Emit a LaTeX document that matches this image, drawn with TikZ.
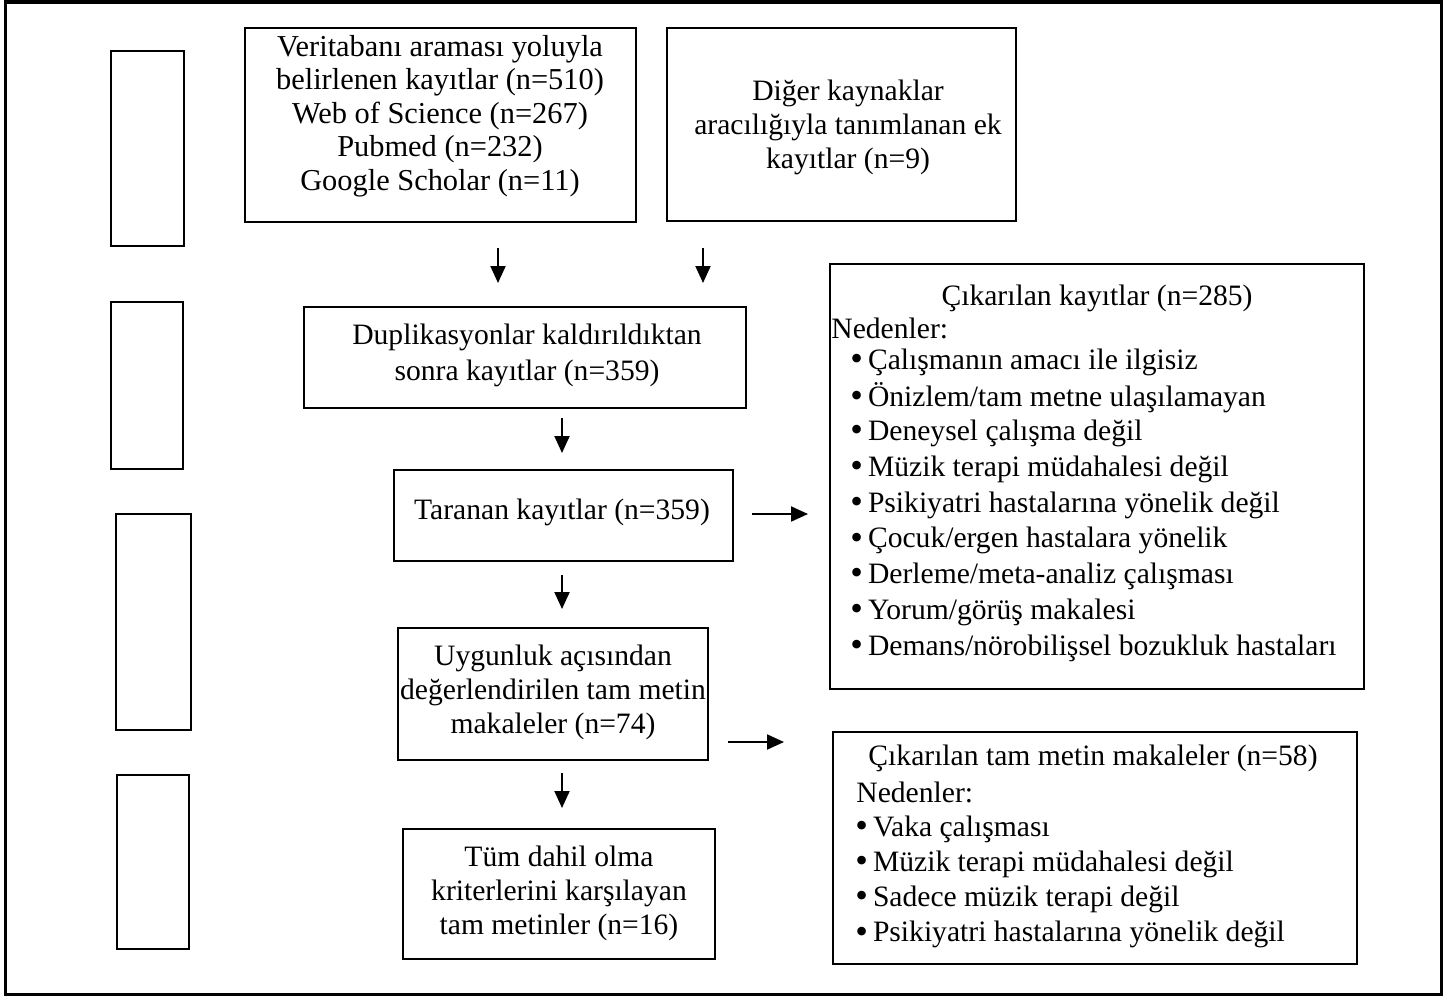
\documentclass[tikz,border=0pt]{standalone}
\usepackage{fontspec}
\setmainfont{Liberation Serif}
\usetikzlibrary{arrows.meta,fit}
\newcommand{\bul}{\smash{\raisebox{-0.6pt}{\fontsize{18}{17}\selectfont•}}\hspace{2.5pt}}
\begin{document}
\begin{tikzpicture}[x=0.5pt,y=-0.5pt,
  box/.style={draw, line width=0.9pt, inner sep=0pt},
  side/.style={draw, line width=0.7pt, inner sep=0pt},
  txt/.style={inner sep=0pt, align=center, font={\fontsize{14.8}{17}\selectfont}},
  item/.style={inner sep=0pt, anchor=west, font={\fontsize{14.8}{17}\selectfont}},
  arr/.style={line width=1pt, -{Triangle[width=7.5pt,length=8.5pt]}}]
\useasboundingbox (0,0) rectangle (1450,996);
\draw[line width=1.75pt] (5.5,1.75) rectangle (1441.5,994.25);
% side boxes
\node[side, fit={(111,51)(184,246)}] (L1) {};
\node[side, fit={(111,302)(183,469)}] (L2) {};
\node[side, fit={(116,514)(191,730)}] (L3) {};
\node[side, fit={(117,775)(189,949)}] (L4) {};
% main boxes
\node[box, fit={(245,28)(636,222)}] (A) {};
\node[box, fit={(667,28)(1016,221)}] (B) {};
\node[box, fit={(304,307)(746,408)}] (C) {};
\node[box, fit={(394,470)(733,561)}] (D) {};
\node[box, fit={(830,264)(1364,689)}] (E) {};
\node[box, fit={(398,628)(708,760)}] (F) {};
\node[box, fit={(833,732)(1357,964)}] (G) {};
\node[box, fit={(403,829)(715,959)}] (H) {};
% texts
\node[txt, font={\fontsize{15.2}{16.8}\selectfont}] (At) at (440,116) {Veritabanı araması yoluyla\\belirlenen kayıtlar (n=510)\\Web of Science (n=267)\\Pubmed (n=232)\\Google Scholar (n=11)};
\node[txt] (Bt) at (848,127) {Diğer kaynaklar\\aracılığıyla tanımlanan ek\\kayıtlar (n=9)};
\node[txt, font={\fontsize{14.8}{18}\selectfont}] (Ct) at (527,355) {Duplikasyonlar kaldırıldıktan\\sonra kayıtlar (n=359)};
\node[txt] (Dt) at (562,512) {Taranan kayıtlar (n=359)};
\node[txt] (Ft) at (553,692) {Uygunluk açısından\\değerlendirilen tam metin\\makaleler (n=74)};
\node[txt] (Ht) at (559,893) {Tüm dahil olma\\kriterlerini karşılayan\\tam metinler (n=16)};
% excluded records
\node[txt] (Et) at (1097,298) {Çıkarılan kayıtlar (n=285)};
\node[item] (En) at (831,328) {Nedenler:};
\foreach \t [count=\i] in {Çalışmanın amacı ile ilgisiz, Önizlem/tam metne ulaşılamayan, Deneysel çalışma değil, Müzik terapi müdahalesi değil, Psikiyatri hastalarına yönelik değil, Çocuk/ergen hastalara yönelik, Derleme/meta-analiz çalışması, Yorum/görüş makalesi, Demans/nörobilişsel bozukluk hastaları}
  \node[item] (e\i) at (850,{362+35.75*(\i-1)}) {\bul\t};
% excluded full texts
\node[txt] (Gt) at (1093,758) {Çıkarılan tam metin makaleler (n=58)};
\node[item] (Gn) at (856,792) {Nedenler:};
\foreach \t [count=\i] in {Vaka çalışması, Müzik terapi müdahalesi değil, Sadece müzik terapi değil, Psikiyatri hastalarına yönelik değil}
  \node[item] (g\i) at (855,{829+35.3*(\i-1)}) {\bul\t};
% arrows
\coordinate (a1s) at (498,248); \coordinate (a1e) at (498,283);
\coordinate (a2s) at (703,248); \coordinate (a2e) at (703,283);
\coordinate (a3s) at (562,418); \coordinate (a3e) at (562,453);
\coordinate (a4s) at (752,514); \coordinate (a4e) at (808,514);
\coordinate (a5s) at (562,575); \coordinate (a5e) at (562,609);
\coordinate (a6s) at (728,742); \coordinate (a6e) at (784,742);
\coordinate (a7s) at (562,773); \coordinate (a7e) at (562,808);
\draw[arr] (a1s) -- (a1e);
\draw[arr] (a2s) -- (a2e);
\draw[arr] (a3s) -- (a3e);
\draw[arr] (a4s) -- (a4e);
\draw[arr] (a5s) -- (a5e);
\draw[arr] (a6s) -- (a6e);
\draw[arr] (a7s) -- (a7e);
\end{tikzpicture}
\end{document}
